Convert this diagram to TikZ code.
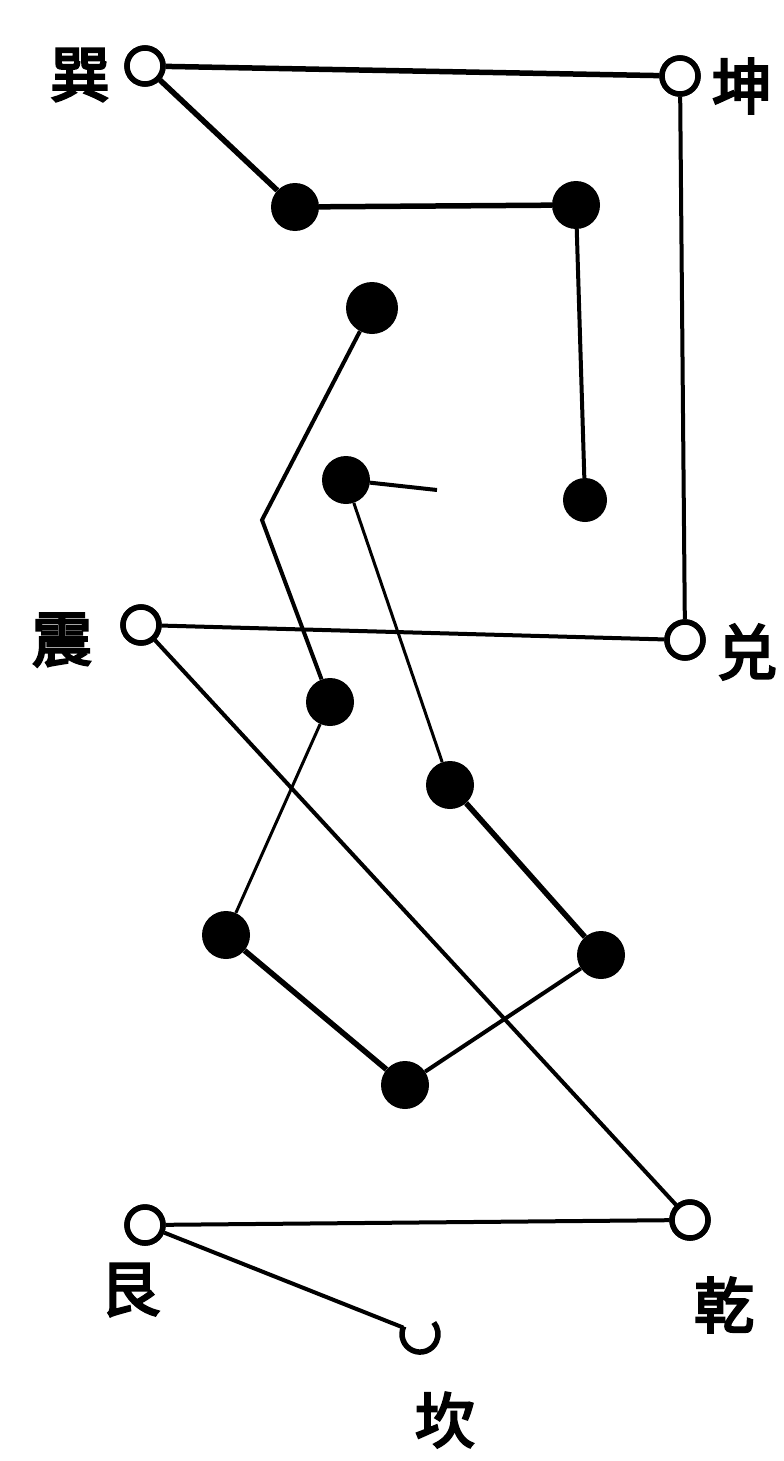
\documentclass[tikz,border=0pt]{standalone}
\usepackage{fontspec}
\newfontfamily\cjk[FakeBold=4]{Noto Sans CJK SC}
\begin{document}
\begin{tikzpicture}[x=1pt,y=-1pt,
  opendot/.style={circle,draw=black,line width=5.5pt,fill=white,minimum size=36pt,inner sep=0pt},
  fulldot/.style={circle,fill=black,minimum size=48pt,inner sep=0pt},
  thick line/.style={line width=5.5pt},
  mid line/.style={line width=4pt},
  thin line/.style={line width=3pt},
  lab/.style={font=\cjk\fontsize{60}{60}\selectfont,inner sep=0pt}]
\useasboundingbox (0,0) rectangle (784,1461);
% open circles
\node[opendot] (xun) at (145,66) {};
\node[opendot] (kun) at (680,76) {};
\node[opendot] (zhen) at (141,625) {};
\node[opendot] (dui) at (685,640) {};
\node[opendot] (gen) at (145,1225) {};
\node[opendot] (qian) at (690,1220) {};
\node[circle,minimum size=40pt,inner sep=0pt] (kan) at (422,1335) {};
% filled dots
\node[fulldot] (A) at (295,207) {};
\node[fulldot] (B) at (576,205) {};
\node[fulldot,minimum size=44pt] (C) at (585,500) {};
\node[fulldot,minimum size=52pt] (D) at (372,308) {};
\node[fulldot] (E) at (346,480) {};
\node[fulldot] (F) at (330,702) {};
\node[fulldot] (G) at (450,785) {};
\node[fulldot] (H) at (226,935) {};
\node[fulldot] (I) at (601,955) {};
\node[fulldot] (J) at (405,1085) {};
\coordinate (bend) at (262,520);
\coordinate (eend) at (437,490);
% connectors
\draw[thick line] (xun) -- (kun);
\draw[thick line] (xun) -- (A);
\draw[thick line] (A) -- (B);
\draw[mid line] (B) -- (C);
\draw[mid line] (kun) -- (dui);
\draw[mid line] (D) -- (bend) -- (F);
\draw[mid line] (E) -- (eend);
\draw[mid line] (zhen) -- (dui);
\draw[thin line] (E) -- (G);
\draw[thin line] (F) -- (H);
\draw[mid line] (zhen) -- (qian);
\draw[thick line] (H) -- (J);
\draw[mid line] (J) -- (I);
\draw[thick line] (I) -- (G);
\draw[mid line] (gen) -- (qian);
\draw[mid line] (gen) -- (kan);
\draw[line width=5.5pt] (kan.155) arc[start angle=155,end angle=400,radius=18pt];
% redraw open circles on top
\foreach \n in {xun,kun,zhen,dui,gen,qian}{\node[opendot] at (\n) {};}
% labels
\node[lab] (lxun) at (80,75) {巽};
\node[lab] (lkun) at (742,86) {坤};
\node[lab] (lzhen) at (62,640) {震};
\node[lab] (ldui) at (747,652) {兑};
\node[lab] (lgen) at (130,1290) {艮};
\node[lab] (lqian) at (724,1305) {乾};
\node[lab] (lkan) at (445,1420) {坎};
\end{tikzpicture}
\end{document}
